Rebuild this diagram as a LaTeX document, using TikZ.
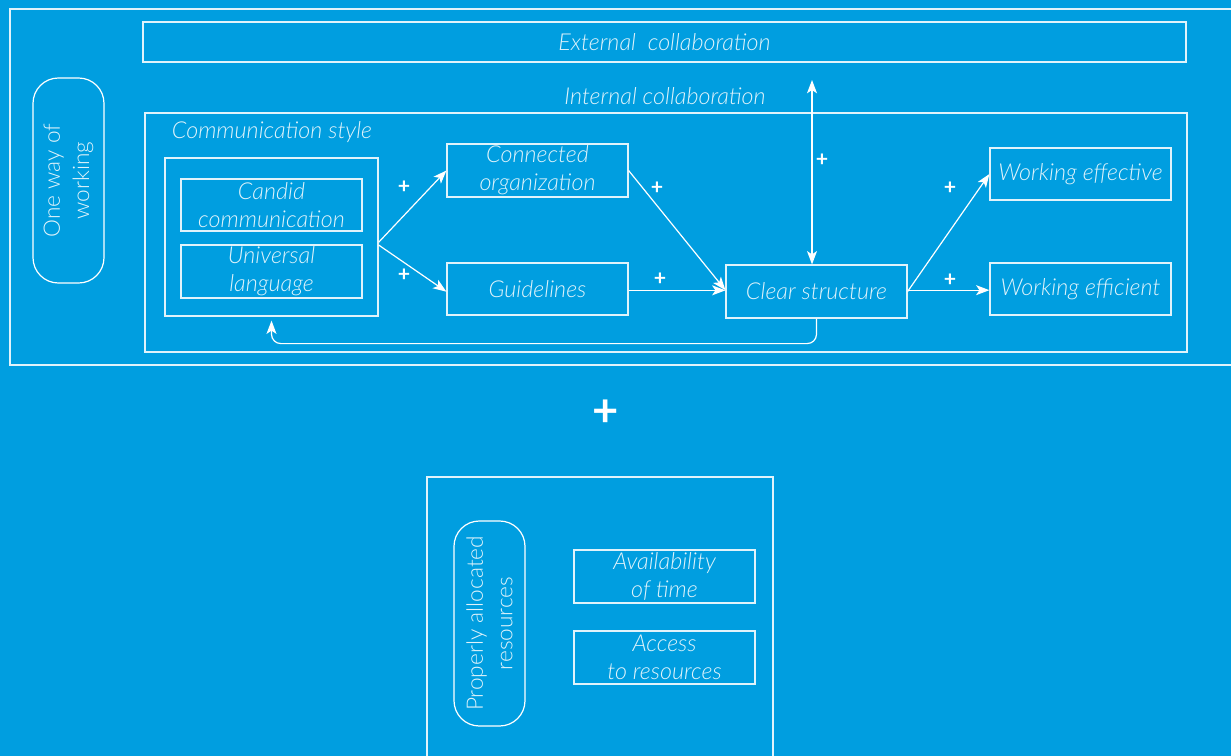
\documentclass[tikz,border=0pt]{standalone}
\usepackage{fontspec}
\setmainfont{Lato Light}[ItalicFont={Lato Light Italic},BoldFont={Lato Bold}]
\usetikzlibrary{arrows.meta}
\definecolor{bg}{RGB}{0,158,224}
\colorlet{ink}{white!88!bg}

\begin{document}
\begin{tikzpicture}[x=0.75pt,y=-0.75pt,
  box/.style 2 args={draw=ink, line width=0.9pt, minimum width=#1*0.75pt,
    minimum height=#2*0.75pt, inner sep=0pt, align=center, text=ink,
    font=\fontsize{17.5}{21}\selectfont\itshape},
  frame/.style 2 args={draw=ink, line width=0.9pt, minimum width=#1*0.75pt,
    minimum height=#2*0.75pt, inner sep=0pt},
  pill/.style 2 args={draw=white, line width=0.9pt, minimum width=#1*0.75pt,
    minimum height=#2*0.75pt, inner sep=0pt, rounded corners=19pt},
  vlabel/.style={rotate=90, align=center, text=ink, inner sep=0pt,
    font=\fontsize{17}{22}\selectfont},
  caption/.style={text=ink, inner sep=0pt, font=\fontsize{17.5}{21}\selectfont\itshape},
  plus/.style={text=white, inner sep=0pt, font=\fontsize{16}{16}\selectfont\bfseries},
  link/.style={draw=white, line width=0.9pt, -{Stealth[length=10pt,width=7.5pt,inset=2.5pt]}},
]
% background and page size
\fill[bg] (0,0) rectangle (1231,756);
\useasboundingbox (0,0) rectangle (1231,756);

% upper block: one way of working
\node[frame={1235}{356}] (outer) at (627.5,187) {};
\node[pill={71}{205}] (oneway) at (68.5,180.5) {};
\node[vlabel] (onewaytext) at (68.5,180.5) {One way of\\working};

\node[box={1043}{40}] (external) at (664.5,42) {External\ \ collaboration};
\node[caption] (internaltext) at (665,96) {Internal collaboration};
\node[frame={1042}{239}] (internal) at (666,232.5) {};
\node[caption] (commtext) at (272,132) {Communication style};

\node[frame={213}{158}] (comm) at (271.5,237) {};
\node[box={181}{52}] (candid) at (271.5,205) {Candid\\communication};
\node[box={181}{53}] (universal) at (271.5,271.5) {Universal\\language};

\node[box={181}{53}] (connected) at (537.5,170.5) {Connected\\organization};
\node[box={181}{52}] (guidelines) at (537.5,289) {Guidelines};
\node[box={181}{53}] (clear) at (816.5,291.5) {Clear structure};
\node[box={181}{52}] (effective) at (1080.5,174) {Working effective};
\node[box={181}{52}] (efficient) at (1080.5,289) {Working efficient};

% connectors
\draw[link] ([yshift=-4pt]comm.east) -- (connected.west);
\draw[link] ([yshift=-6pt]comm.east) -- ([yshift=-2pt]guidelines.west);
\draw[link] (connected.east) -- ([yshift=1pt]clear.west);
\draw[link] ([yshift=-1pt]guidelines.east) -- ([yshift=-1pt]guidelines.east -| clear.west);
\draw[link] (clear.east) -- (effective.west);
\draw[link] ([yshift=1pt]clear.east) -- ([yshift=1pt]clear.east -| efficient.west);
\coordinate (extarrow) at (812,80);
\draw[link, {Stealth[length=10pt,width=7.5pt,inset=2.5pt]}-{Stealth[length=10pt,width=7.5pt,inset=2.5pt]}]
  (extarrow) -- (extarrow |- clear.north);
\draw[link, rounded corners=7pt, shorten >=3pt]
  (clear.south) -- ++(0,25) -| (comm.south);

% signs
\node[plus] (p1) at (404,187) {+};
\node[plus] (p2) at (404,275) {+};
\node[plus] (p3) at (657,188) {+};
\node[plus] (p4) at (660,279) {+};
\node[plus] (p5) at (822,160) {+};
\node[plus] (p6) at (950,188) {+};
\node[plus] (p7) at (950,280) {+};
\node[text=white, inner sep=0pt, font=\fontsize{34}{34}\selectfont\bfseries] (bigplus) at (606,413) {+};

% lower block: resources
\node[frame={346}{293}] (lower) at (600,623.5) {};
\node[pill={71}{205}] (resources) at (489.5,623.5) {};
\node[vlabel] (resourcestext) at (489.5,623.5) {Properly allocated\\resources};
\node[box={181}{53}] (time) at (664.5,576.5) {Availability\\of time};
\node[box={181}{53}] (access) at (664.5,657.5) {Access\\to resources};
\end{tikzpicture}
\end{document}
